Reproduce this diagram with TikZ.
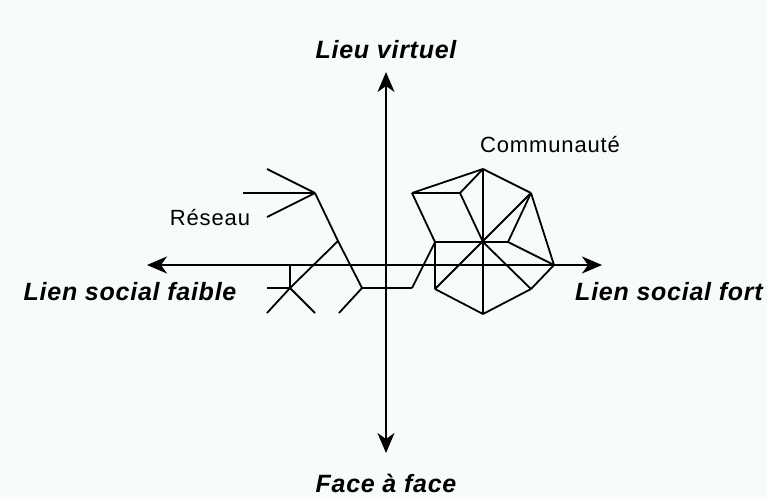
\documentclass[tikz,border=0pt]{standalone}
\usepackage{fontspec}
\usetikzlibrary{arrows.meta}
\newfontfamily\axisfont[LetterSpace=3]{Liberation Sans}
\newfontfamily\netfont[LetterSpace=4]{Liberation Sans}
\definecolor{inkpaper}{HTML}{F7FCF8}
\definecolor{inkline}{HTML}{000000}

\begin{document}
\begin{tikzpicture}[x=1pt, y=-1pt, line width=1.8pt, line join=round,
    axisarrow/.style={inkline, {Stealth[length=20pt, width=17pt, inset=6pt]}-{Stealth[length=20pt, width=17pt, inset=6pt]}},
    axislabel/.style={anchor=base, inner sep=0pt, text=inkline,
      font=\axisfont\bfseries\itshape\fontsize{25}{29}\selectfont},
    netlabel/.style={anchor=base, inner sep=0pt, text=inkline,
      font=\netfont\fontsize{22}{26}\selectfont}]
    \fill[inkpaper] (0,0) rectangle (767,499);
    \useasboundingbox (0,0) rectangle (767,499);
    % axes
    \coordinate (west) at (147,265);
    \coordinate (east) at (602,265);
    \coordinate (north) at (386,72);
    \coordinate (south) at (386,453);
    \draw[axisarrow] (west) -- (east);
    \draw[axisarrow] (north) -- (south);
    \node[axislabel] (virtuel) at (386,58) {Lieu virtuel};
    \node[axislabel] (face) at (386,492) {Face à face};
    \node[axislabel] (faible) at (130,300) {Lien social faible};
    \node[axislabel] (fort) at (669,300) {Lien social fort};
    % network
    \coordinate (hub) at (315,193);
    \coordinate (r1) at (267,169);
    \coordinate (r2) at (243,193);
    \coordinate (r3) at (267,217);
    \coordinate (j1) at (338,241);
    \coordinate (j2) at (362,288);
    \coordinate (j3) at (339,313);
    \coordinate (k) at (290,288);
    \coordinate (ka) at (290,265);
    \coordinate (k1) at (267,288);
    \coordinate (k2) at (267,313);
    \coordinate (k3) at (315,313);
    \coordinate (m) at (412,288);
    % community
    \coordinate (top) at (483,169);
    \coordinate (ul) at (412,193);
    \coordinate (iul) at (460,193);
    \coordinate (ur) at (531,193);
    \coordinate (ctr) at (483,242);
    \coordinate (cl) at (435,242);
    \coordinate (ir) at (508,242);
    \coordinate (cr) at (554,265);
    \coordinate (br) at (531,289);
    \coordinate (bl) at (435,289);
    \coordinate (bot) at (483,314);
    \foreach \a/\b in {hub/r1, hub/r2, hub/r3, hub/j1, j1/j2, j1/k, k/k2,
        k/ka, k/k1, k/k3, j2/j3, j2/m, m/cl}
      \draw[inkline] (\a) -- (\b);
    \foreach \a/\b in {cl/ul, ul/top, ul/iul, iul/top, iul/ctr, top/ur,
        top/bot, ur/bl, ur/ir, ur/cr, ir/cr, cl/ir, ctr/br, cr/br, br/bot,
        bot/bl, bl/cl}
      \draw[inkline] (\a) -- (\b);
    \node[netlabel] (reseau) at (210,225) {Réseau};
    \node[netlabel] (commu) at (550,152) {Communauté};
  \end{tikzpicture}
\end{document}
